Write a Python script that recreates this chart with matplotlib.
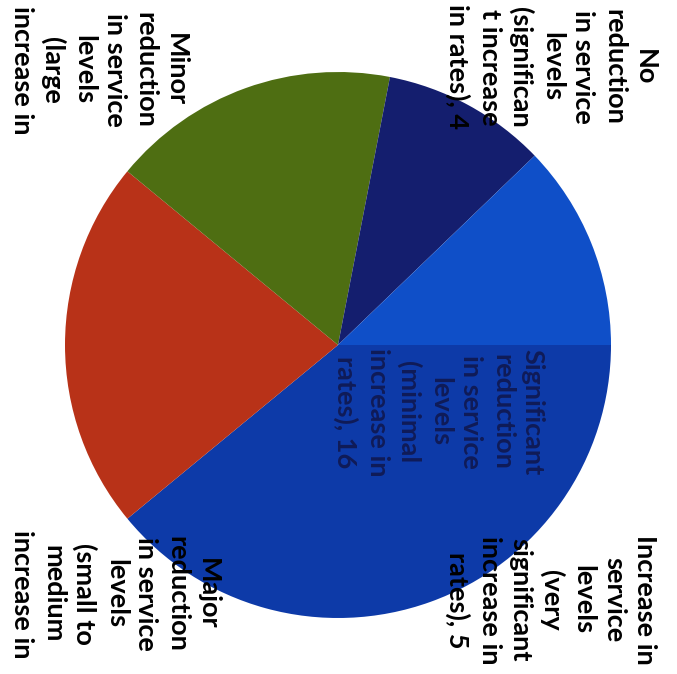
import matplotlib
matplotlib.use("Agg")
import matplotlib.pyplot as plt

# slices, clockwise from the right-hand side of the (rotated) chart
categories = [
    "Significant reduction in service levels (minimal increase in rates)",
    "Major reduction in service levels (small to medium increase in rates)",
    "Minor reduction in service levels (large increase in rates)",
    "No reduction in service levels (significant increase in rates)",
    "Increase in service levels (very significant increase in rates)",
]
values = [16, 9, 7, 4, 5]
colors = ["#0d3aa8", "#b83218", "#4e6e12", "#141e6e", "#0f4fc8"]

# labels as they are wrapped (and cut off by the page) in the scan
label_lines = [
    ["Significant", "reduction", "in service", "levels", "(minimal",
     "increase in", "rates), 16"],
    ["Major", "reduction", "in service", "levels", "(small to",
     "medium", "increase in"],
    ["Minor", "reduction", "in service", "levels", "(large", "increase in"],
    ["No", "reduction", "in service", "levels", "(significan",
     "t increase", "in rates), 4"],
    ["Increase in", "service", "levels", "(very", "significant",
     "increase in", "rates), 5"],
]
# label centres in pixels (x from left, y from top)
label_pos = [(439, 412), (115, 594), (99, 70), (551, 67), (551, 600)]
label_colors = ["#101b58", "black", "black", "black", "black"]

W, H = 677, 674
fig = plt.figure(figsize=(W / 100, H / 100), dpi=100)
ax = fig.add_axes([0, 0, 1, 1])

ax.pie(values, colors=colors, startangle=0, counterclock=False,
       center=(338, H - 345), radius=273, frame=True,
       wedgeprops=dict(linewidth=0))
ax.set_xlim(0, W)
ax.set_ylim(0, H)
ax.set_aspect("equal")
ax.axis("off")

for lines, (px, py), c in zip(label_lines, label_pos, label_colors):
    ax.text(px, H - py, "\n".join(lines), rotation=-90, ha="center",
            va="center", multialignment="center", fontsize=19.5,
            fontweight="bold", family=["Lato", "DejaVu Sans"], color=c,
            linespacing=1.33, rotation_mode="anchor")

fig.savefig("out.png", dpi=100)
